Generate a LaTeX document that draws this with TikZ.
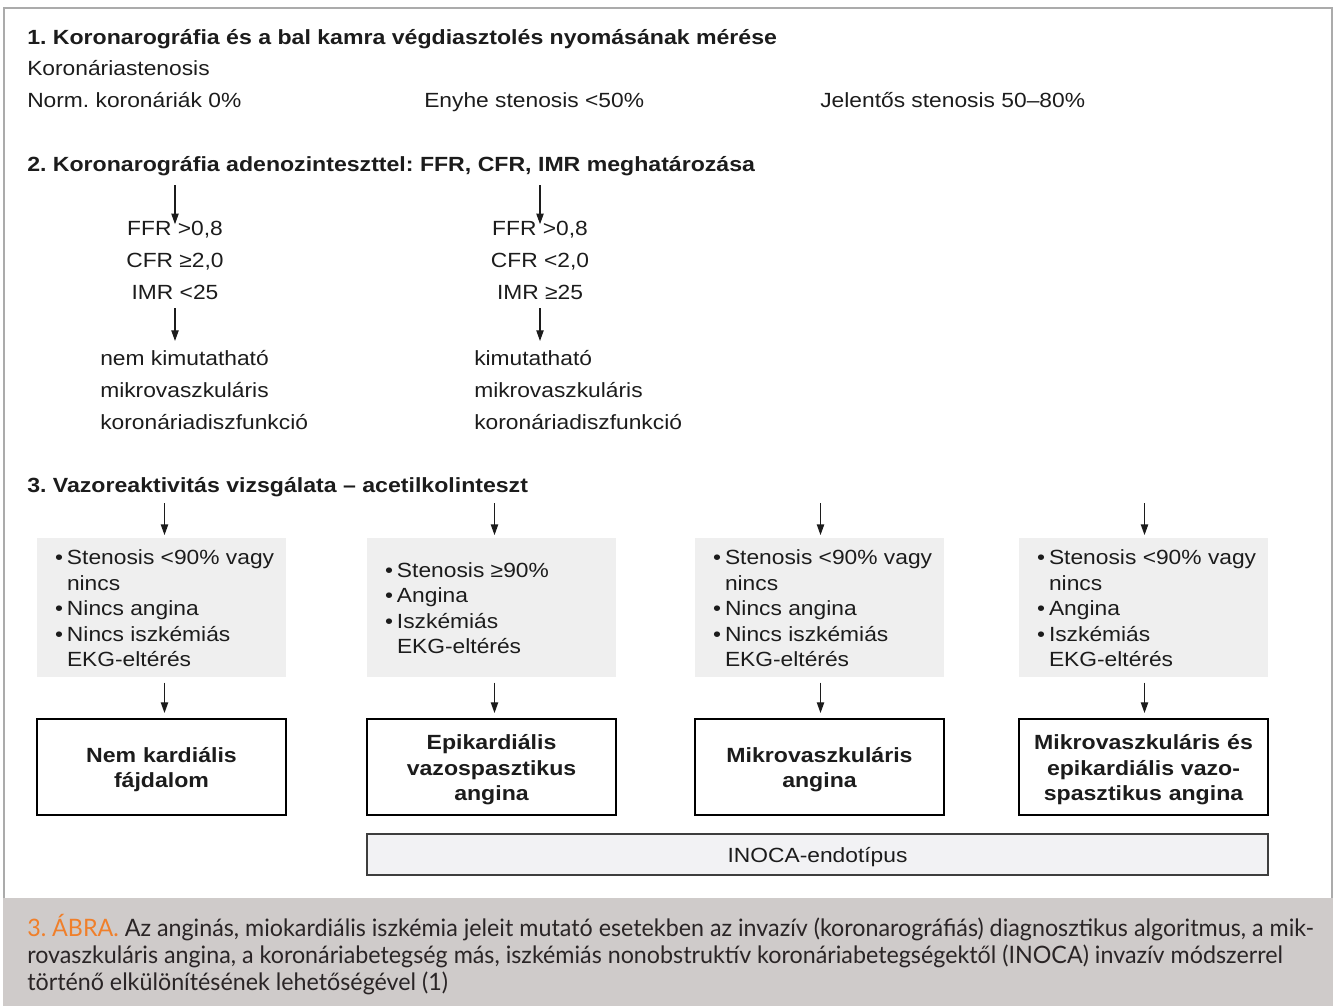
\documentclass[tikz,border=0pt]{standalone}
\usepackage{fontspec}
\setmainfont{Liberation Sans}[FakeStretch=1.11, BoldFeatures={FakeStretch=1.125}]
\newfontfamily\capfont{Lato}[FakeStretch=0.97]
\usetikzlibrary{arrows.meta,calc}
\definecolor{ink}{HTML}{1C1C1C}
\definecolor{framegray}{HTML}{ABABAB}
\definecolor{boxgray}{HTML}{EFEFEF}
\definecolor{barfill}{HTML}{F2F2F4}
\definecolor{capbg}{HTML}{CFCBCA}
\definecolor{capink}{HTML}{2A2526}
\definecolor{capaccent}{HTML}{F07F2A}
\newcommand\txtfont{\fontsize{15.4}{19.1}\selectfont}
\newcommand\capsize{\fontsize{18}{20}\capfont}
\newcommand\bul{\makebox[9pt][l]{•}}
\newcommand\hang{\hspace*{9pt}}
\frenchspacing
\tikzset{
  txt/.style={inner sep=0pt, text=ink, font=\txtfont},
  head/.style={txt, font=\txtfont\bfseries},
  graybox/.style={fill=boxgray, draw=none, minimum width=186.75pt,
    minimum height=104.25pt, inner sep=0pt},
  graytext/.style={anchor=west, inner sep=0pt, align=left, text=ink, font=\txtfont},
  resultbox/.style={draw=black, line width=1pt, fill=white,
    minimum width=186.75pt, minimum height=72pt, inner sep=0pt},
  resulttext/.style={text width=180pt, inner sep=0pt, align=center,
    text=ink, font=\txtfont\bfseries},
  flow/.style={-{Triangle[length=8pt,width=5.5pt]}, line width=0.9pt, draw=ink},
  capline/.style={inner sep=0pt, anchor=base west, text=capink, font=\capsize}
}
\begin{document}
\begin{tikzpicture}[x=0.75pt,y=-0.75pt]
\useasboundingbox (0,0) rectangle (1333,1006);
% outer frame and caption band
\draw[framegray, line width=1.1pt] (4,898) -- (4,8) -- (1332,8) -- (1332,898);
\fill[capbg] (3,898) rectangle (1333,1006);

% step 1
\node[head, anchor=base west] (h1) at (27,44.5) {1. Koronarográfia és a bal kamra végdiasztolés nyomásának mérése};
\node[txt, anchor=base west] (kst) at (27,75.5) {Koronáriastenosis};
\node[txt, anchor=base west] (s0) at (27,107.5) {Norm. koronáriák 0\%};
\node[txt, anchor=base west] (s1) at (424,107.5) {Enyhe stenosis <50\%};
\node[txt, anchor=base west] (s2) at (820,107.5) {Jelentős stenosis 50–80\%};

% step 2
\node[head, anchor=base west] (h2) at (27,171.5) {2. Koronarográfia adenozinteszttel: FFR, CFR, IMR meghatározása};
\coordinate (row2top) at (0,185);
\coordinate (row2mid) at (0,308);
\coordinate (row2end) at (0,341);

\node[txt, anchor=base] (ffrA) at (175,235.5) {FFR >0,8};
\node[txt, anchor=base] (cfrA) at (175,267.5) {CFR ≥2,0};
\node[txt, anchor=base] (imrA) at (175,299.5) {IMR <25};
\node[txt, anchor=base west] (resA1) at (100,365) {nem kimutatható};
\node[txt, anchor=base west] (resA2) at (100,397) {mikrovaszkuláris};
\node[txt, anchor=base west] (resA3) at (100,429) {koronáriadiszfunkció};

\node[txt, anchor=base] (ffrB) at (540,235.5) {FFR >0,8};
\node[txt, anchor=base] (cfrB) at (540,267.5) {CFR <2,0};
\node[txt, anchor=base] (imrB) at (540,299.5) {IMR ≥25};
\node[txt, anchor=base west] (resB1) at (474,365) {kimutatható};
\node[txt, anchor=base west] (resB2) at (474,397) {mikrovaszkuláris};
\node[txt, anchor=base west] (resB3) at (474,429) {koronáriadiszfunkció};

\draw[flow] (row2top -| ffrA.north) -- ([yshift=-2.5pt]ffrA.north);
\draw[flow] (row2top -| ffrB.north) -- ([yshift=-2.5pt]ffrB.north);
\draw[flow] (row2mid -| imrA.south) -- (row2end -| imrA.south);
\draw[flow] (row2mid -| imrB.south) -- (row2end -| imrB.south);

% step 3
\node[head, anchor=base west] (h3) at (27,492.5) {3. Vazoreaktivitás vizsgálata – acetilkolinteszt};
\coordinate (row3top) at (0,503);

\node[graybox] (g1) at (161.5,607.5) {};
\node[graybox] (g2) at (491.5,607.5) {};
\node[graybox] (g3) at (819.5,607.5) {};
\node[graybox] (g4) at (1143.5,607.5) {};
\node[graytext] (g1t) at ([xshift=13.5pt,yshift=-0.6pt]g1.west) {\bul Stenosis <90\% vagy\\ \hang nincs\\ \bul Nincs angina\\ \bul Nincs iszkémiás\\ \hang EKG-eltérés};
\node[graytext] (g2t) at ([xshift=13.5pt,yshift=-0.6pt]g2.west) {\bul Stenosis ≥90\%\\ \bul Angina\\ \bul Iszkémiás\\ \hang EKG-eltérés};
\node[graytext] (g3t) at ([xshift=13.5pt,yshift=-0.6pt]g3.west) {\bul Stenosis <90\% vagy\\ \hang nincs\\ \bul Nincs angina\\ \bul Nincs iszkémiás\\ \hang EKG-eltérés};
\node[graytext] (g4t) at ([xshift=13.5pt,yshift=-0.6pt]g4.west) {\bul Stenosis <90\% vagy\\ \hang nincs\\ \bul Angina\\ \bul Iszkémiás\\ \hang EKG-eltérés};

\node[resultbox] (w1) at (161.5,767) {};
\node[resultbox] (w2) at (491.5,767) {};
\node[resultbox] (w3) at (819.5,767) {};
\node[resultbox] (w4) at (1143.5,767) {};
\node[resulttext] (w1t) at ([yshift=-2pt]w1.center) {Nem kardiális\\ fájdalom};
\node[resulttext] (w2t) at ([yshift=-2pt]w2.center) {Epikardiális\\ vazospasztikus\\ angina};
\node[resulttext] (w3t) at ([yshift=-2pt]w3.center) {Mikrovaszkuláris\\ angina};
\node[resulttext] (w4t) at ([yshift=-2pt]w4.center) {Mikrovaszkuláris és\\ epikardiális vazo-\\ spasztikus angina};

\node[draw=ink!85, line width=1pt, fill=barfill, minimum width=675.75pt,
  minimum height=30.75pt, inner sep=0pt, text=ink, font=\txtfont] (inoca) at (817.5,854.5) {\raisebox{-2pt}[\height][\depth]{INOCA-endotípus}};

\foreach \i/\dx in {1/3,2/3,3/1,4/1}{
  \draw[flow] ([xshift=\dx*0.75pt]row3top -| g\i.north) -- ([xshift=\dx*0.75pt,yshift=2pt]g\i.north);
  \draw[flow] ([xshift=\dx*0.75pt,yshift=-4pt]g\i.south) -- ([xshift=\dx*0.75pt,yshift=4pt]w\i.north);
}

% caption
\node[capline] (cap1) at (27,936) {\textcolor{capaccent}{3. ÁBRA.} Az anginás, miokardiális iszkémia jeleit mutató esetekben az invazív (koronarográfiás) diagnosztikus algoritmus, a mik-};
\node[capline] (cap2) at (27,963) {rovaszkuláris angina, a koronáriabetegség más, iszkémiás nonobstruktív koronáriabetegségektől (INOCA) invazív módszerrel};
\node[capline] (cap3) at (27,990) {történő elkülönítésének lehetőségével (1)};
\end{tikzpicture}
\end{document}
